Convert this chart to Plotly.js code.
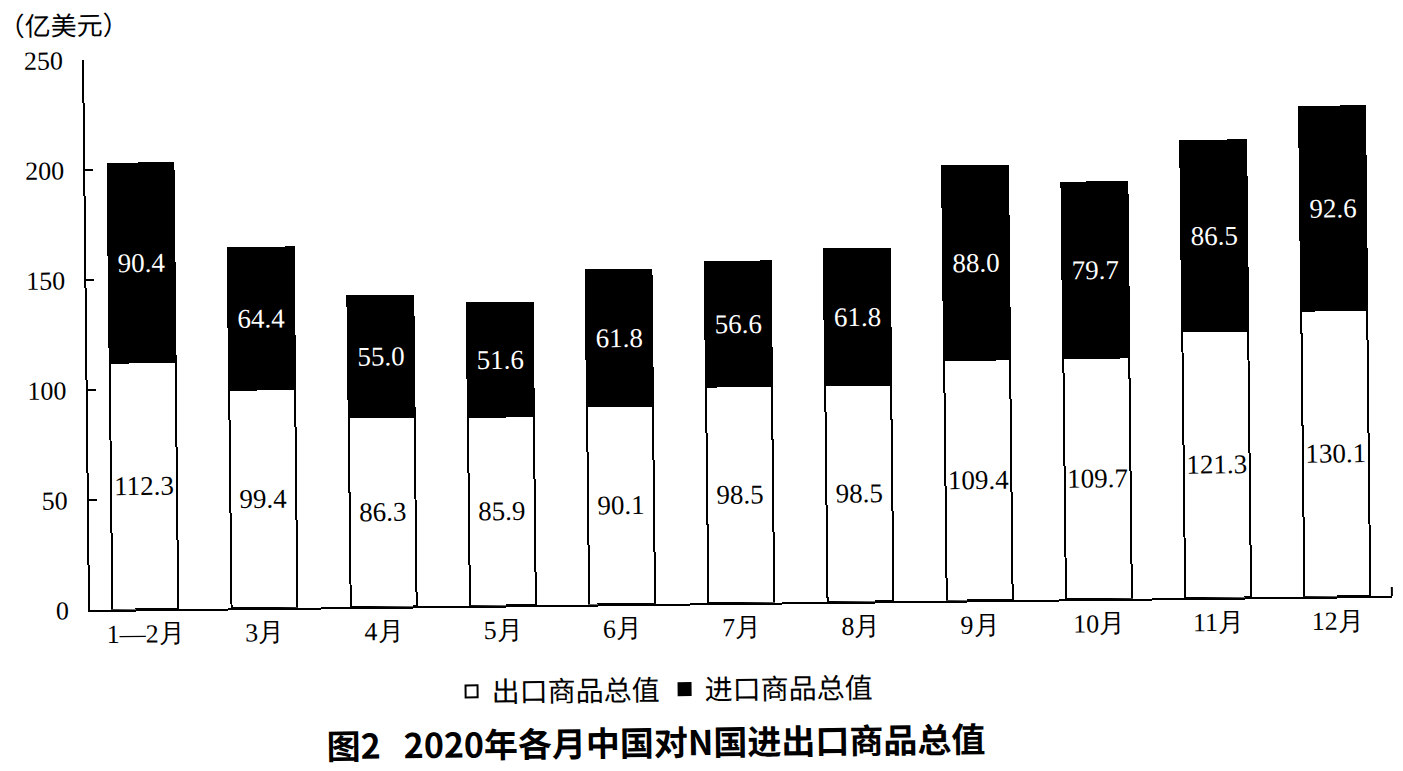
<!DOCTYPE html>
<html>
<head>
<meta charset="utf-8">
<script src="https://cdn.plot.ly/plotly-3.0.1.min.js"></script>
<style>
  html, body { margin: 0; padding: 0; background: #ffffff; overflow: hidden; }
  #chart { width: 1403px; height: 771px; transform: rotate(-0.62deg); transform-origin: 90px 610px; }
</style>
</head>
<body>
<div id="chart"></div>
<script>
const categories = ['1—2月','3月','4月','5月','6月','7月','8月','9月','10月','11月','12月'];
const exportValues = [112.3, 99.4, 86.3, 85.9, 90.1, 98.5, 98.5, 109.4, 109.7, 121.3, 130.1];
const importValues = [90.4, 64.4, 55.0, 51.6, 61.8, 56.6, 61.8, 88.0, 79.7, 86.5, 92.6];
const yTicks = [0, 50, 100, 150, 200, 250];
const seriesNames = ['出口商品总值', '进口商品总值'];

const serif = 'Liberation Serif, Times New Roman, serif';
const cjk = 'Noto Sans CJK SC, sans-serif';

const exportTrace = {
  type: 'bar',
  name: seriesNames[0],
  x: categories,
  y: exportValues,
  width: 0.553,
  marker: { color: '#ffffff', line: { color: '#000000', width: 2 } },
  texttemplate: '%{y:.1f}',
  textposition: 'inside',
  insidetextanchor: 'middle',
  textangle: 0,
  constraintext: 'none',
  textfont: { family: serif, size: 27, color: '#000000' },
  hoverinfo: 'skip'
};
const importTrace = {
  type: 'bar',
  name: seriesNames[1],
  x: categories,
  y: importValues,
  width: 0.553,
  marker: { color: '#000000', line: { color: '#000000', width: 2 } },
  texttemplate: '%{y:.1f}',
  textposition: 'inside',
  insidetextanchor: 'middle',
  textangle: 0,
  constraintext: 'none',
  textfont: { family: serif, size: 27, color: '#ffffff' },
  hoverinfo: 'skip'
};

const layout = {
  width: 1403,
  height: 771,
  margin: { l: 90, r: 11, t: 60, b: 161 },
  paper_bgcolor: '#ffffff',
  plot_bgcolor: '#ffffff',
  barmode: 'stack',
  showlegend: true,
  legend: {
    orientation: 'h',
    x: 0.441, xanchor: 'center',
    y: -0.156, yanchor: 'middle',
    font: { family: cjk, size: 28, color: '#000000' },
    itemsizing: 'constant',
    traceorder: 'normal'
  },
  title: {
    text: '<b>图2   2020年各月中国对N国进出口商品总值</b>',
    x: 0.4665, xanchor: 'center', xref: 'container',
    y: 0.0275, yanchor: 'middle', yref: 'container',
    font: { family: cjk, size: 34, color: '#000000' }
  },
  xaxis: {
    type: 'category',
    range: [-0.464, 10.458],
    showline: true,
    linecolor: '#000000',
    linewidth: 2,
    ticks: '',
    showgrid: false,
    zeroline: false,
    tickfont: { family: serif, size: 26, color: '#000000' },
    fixedrange: true
  },
  yaxis: {
    range: [0, 250],
    tickvals: yTicks,
    ticktext: yTicks.map(String),
    showline: true,
    linecolor: '#000000',
    linewidth: 2,
    ticks: 'inside',
    ticklen: 8,
    tickwidth: 2,
    tickcolor: '#000000',
    ticklabelstandoff: 14,
    showgrid: false,
    zeroline: false,
    tickfont: { family: serif, size: 26, color: '#000000' },
    fixedrange: true
  },
  shapes: [
    { type: 'line', xref: 'paper', yref: 'paper', x0: 1, x1: 1, y0: 0, y1: 0.016,
      line: { color: '#000000', width: 2 } }
  ],
  annotations: [
    { text: '（亿美元）', xref: 'paper', yref: 'paper', x: -0.067, y: 1.0655,
      xanchor: 'left', yanchor: 'middle', showarrow: false,
      font: { family: cjk, size: 26, color: '#000000' } }
  ]
};

Plotly.newPlot('chart', [exportTrace, importTrace], layout, { displayModeBar: false, staticPlot: true });
</script>
</body>
</html>
